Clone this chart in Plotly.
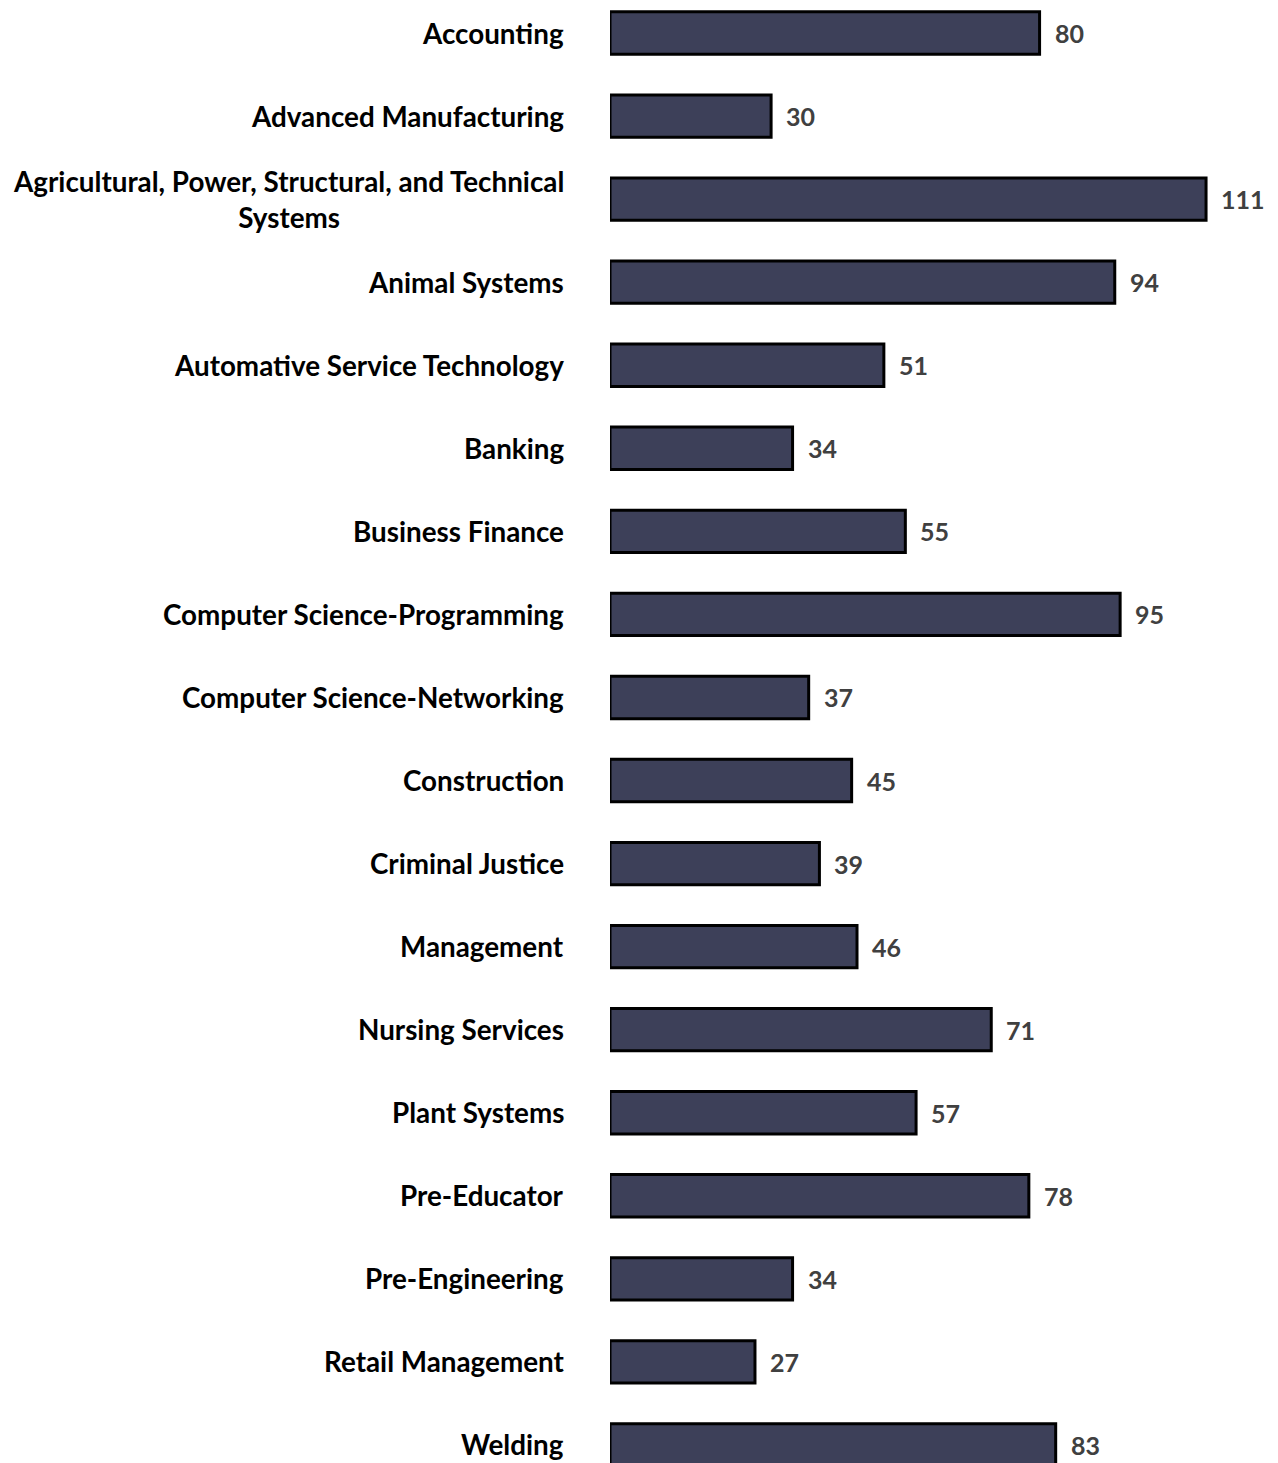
import plotly.graph_objects as go

categories = [
    "Accounting",
    "Advanced Manufacturing",
    "Agricultural, Power, Structural, and Technical<br>Systems",
    "Animal Systems",
    "Automative Service Technology",
    "Banking",
    "Business Finance",
    "Computer Science-Programming",
    "Computer Science-Networking",
    "Construction",
    "Criminal Justice",
    "Management",
    "Nursing Services",
    "Plant Systems",
    "Pre-Educator",
    "Pre-Engineering",
    "Retail Management",
    "Welding",
]
values = [80, 30, 111, 94, 51, 34, 55, 95, 37, 45, 39, 46, 71, 57, 78, 34, 27, 83]

FONT = "Lato"

fig = go.Figure()

fig.add_trace(
    go.Bar(
        x=values,
        y=list(range(len(categories))),
        orientation="h",
        width=0.51,
        marker=dict(color="#3d4059", line=dict(color="black", width=3)),
        hoverinfo="x",
        showlegend=False,
    )
)

# category labels, right aligned block with centered lines
for i, cat in enumerate(categories):
    fig.add_annotation(
        x=0,
        y=i,
        xref="x",
        yref="y",
        text=f"<b>{cat}</b>",
        showarrow=False,
        xanchor="right",
        yanchor="middle",
        align="center",
        xshift=-44,
        font=dict(family=FONT, size=27.8, color="black"),
    )

# value labels
for i, v in enumerate(values):
    fig.add_annotation(
        x=v,
        y=i,
        xref="x",
        yref="y",
        text=f"<b>{v}</b>",
        showarrow=False,
        xanchor="left",
        yanchor="middle",
        xshift=13,
        font=dict(family=FONT, size=25, color="#404040"),
    )

# page body has an 8px margin, so the figure is sized/offset to fit the window
fig.update_layout(
    width=1270,
    height=1455,
    margin=dict(l=602, r=0, t=0, b=0),
    plot_bgcolor="white",
    paper_bgcolor="white",
    xaxis=dict(range=[0, 124.4], visible=False),
    yaxis=dict(range=[17.217, -0.301], visible=False),
    font=dict(family=FONT),
)

fig.write_html("out.html")
